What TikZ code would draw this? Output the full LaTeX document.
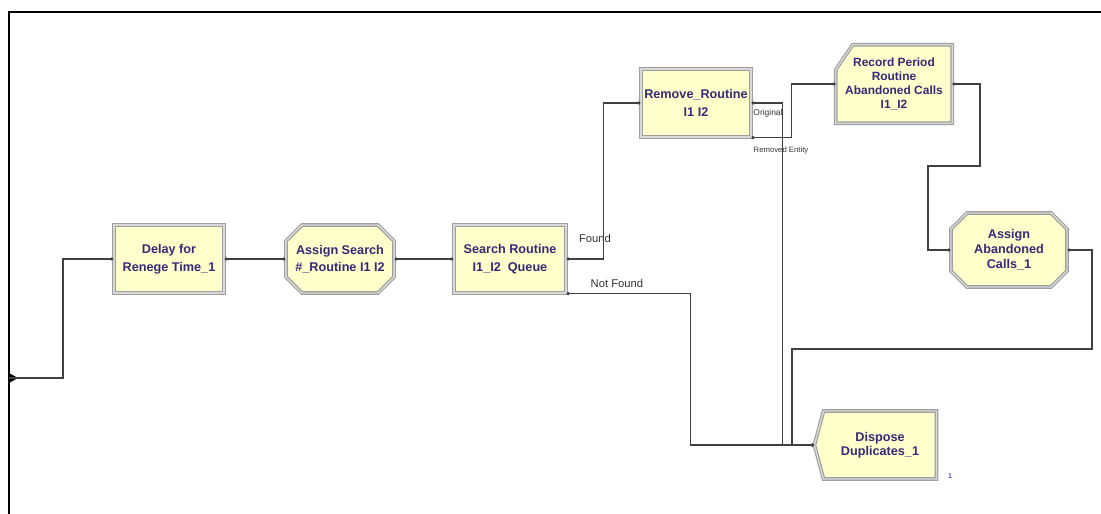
\documentclass[tikz,border=0pt]{standalone}
\usepackage{fontspec}
\setmainfont{Liberation Sans}
\usetikzlibrary{shapes.misc,shapes.symbols,arrows.meta,positioning,backgrounds}
\definecolor{modfill}{RGB}{255,255,204}
\definecolor{modtext}{RGB}{55,40,120}

\begin{document}
\begin{tikzpicture}[x=0.025cm,y=-0.025cm,
    font=\bfseries\fontsize{9}{12.5}\selectfont,
    modline/.style={draw=gray!75,double=gray!30,double distance=1pt,line width=0.8pt,fill=modfill},
    mod/.style={modline,text=modtext,align=center,inner sep=1pt},
    proc/.style={mod,rectangle,minimum width=2.75cm,minimum height=1.7cm},
    asgn/.style={mod,chamfered rectangle,chamfered rectangle xsep=0.2cm,chamfered rectangle ysep=0.2cm,minimum height=1.7cm},
    rec/.style={text=modtext,align=center,inner sep=0pt,minimum width=2.9cm,minimum height=1.95cm,font=\bfseries\fontsize{8.5}{10}\selectfont},
    disp/.style={mod,signal,signal to=west,signal pointer angle=150,minimum width=3.05cm,minimum height=1.7cm,font=\bfseries\fontsize{9}{10}\selectfont},
    conn/.style={draw=black!75,line width=0.9pt,{Circle[length=2.2pt]}-{Circle[length=2.2pt]}},
    lbl/.style={font=\fontsize{8}{9}\selectfont,text=black!80,inner sep=0pt}]
\useasboundingbox (0,0) rectangle (1101,514);
% frame of the model window
\draw[line width=1.5pt] (1101,12) -- (9,12) -- (9,514);
\coordinate (entry) at (9,378);
\fill (entry) ++(0,-5) -- ++(9,5) -- ++(-9,5) -- cycle;

\node[proc] (delay) at (169,259) {Delay for\\Renege Time\_1};
\node[asgn,minimum width=2.5cm] (asgsearch) at (340,259) {Assign Search\\\#\_Routine I1 I2};
\node[proc,minimum width=2.8cm] (search) at (510,259) {Search Routine\\I1\_I2\ \ Queue};
\node[proc] (remove) at (696,103) {Remove\_Routine\\I1 I2};
\node[rec] (record) at (894,84) {Record Period\\Routine\\Abandoned Calls\\I1\_I2};
\node[asgn,minimum width=2.9cm,minimum height=1.85cm,font=\bfseries\fontsize{9}{10.7}\selectfont] (asgaband) at (1009,250) {Assign\\Abandoned\\Calls\_1};
\node[disp] (dispose) at (880,445) {Dispose\\Duplicates\_1};
% record module with its cut corner
\begin{scope}[on background layer]
\filldraw[modline] ([yshift=-0.625cm]record.north west) -- ([xshift=0.425cm]record.north west)
  -- (record.north east) -- (record.south east) -- (record.south west) -- cycle;
\end{scope}

\node[lbl] (found) at (595,238) {Found};
\node[lbl] (notfound) at (617,283) {Not Found};
\node[lbl,font=\fontsize{6}{7}\selectfont] (orig) at (768,113) {Original};
\node[lbl,font=\fontsize{5.5}{6}\selectfont] (removed) at (781,150) {Removed Entity};
\node[lbl,font=\fontsize{5}{6}\selectfont,text=blue!70!black] (count) at (950,476) {1};

\draw[conn,-{Circle[length=2.2pt]}] (entry) -- (63,378) |- (delay.west);
\draw[conn] (delay.east) -- (asgsearch.west);
\draw[conn] (asgsearch.east) -- (search.west);
\draw[conn] (search.east) -- ++(37,0) |- (remove.west);
\draw[conn] (search.south east) -- ++(124,0) |- (dispose.west);
\draw[conn] (remove.east) -- ++(31,0) |- (dispose.west);
\draw[conn] (remove.south east) -- ++(40,0) |- (record.west);
\draw[conn] (record.east) -| (980,166) -- (928,166) |- (asgaband.west);
\draw[conn] (asgaband.east) -| (1092,349) -- (792,349) |- (dispose.west);
\end{tikzpicture}
\end{document}
